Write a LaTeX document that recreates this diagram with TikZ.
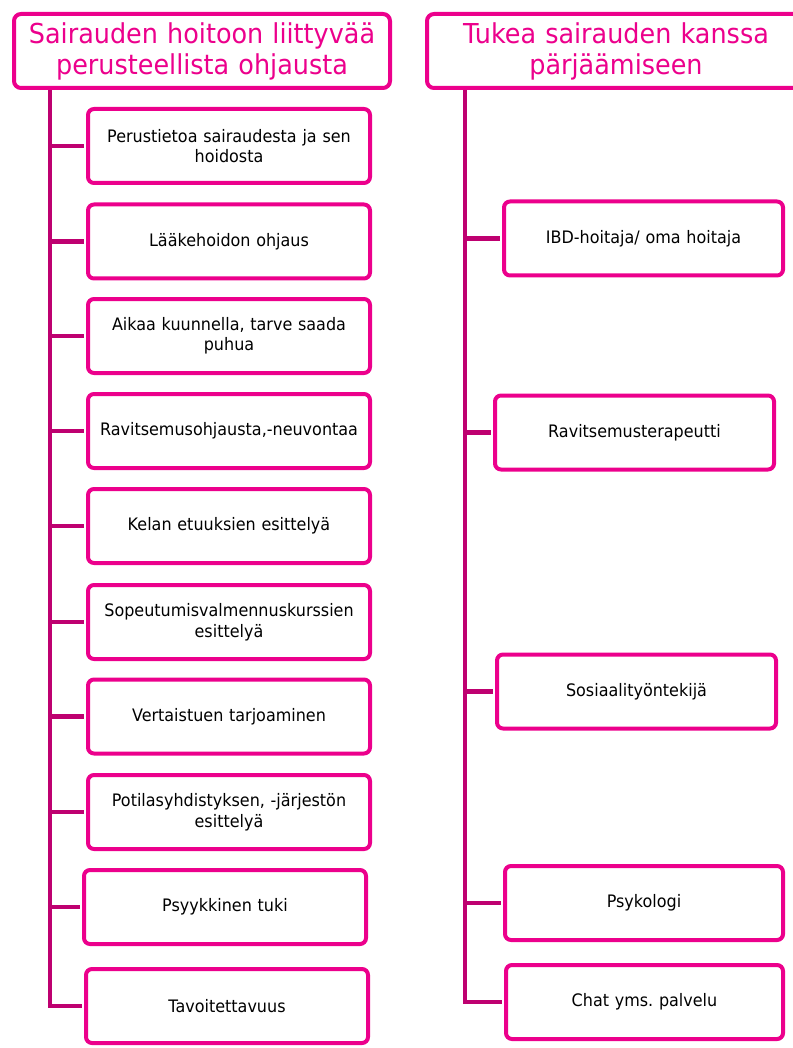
\documentclass[tikz,border=0pt]{standalone}
\usepackage{fontspec}
\setmainfont{DejaVu Sans}[FakeStretch=0.93]
\usepackage{xcolor}
\usepackage{tikz}
\usetikzlibrary{positioning,calc}

\definecolor{boxpink}{RGB}{236,0,140}
\definecolor{linkpink}{RGB}{190,0,112}

\frenchspacing
\begin{document}
\begin{tikzpicture}[
    x=1pt, y=-1pt,
    head/.style={rectangle, draw=boxpink, line width=4pt, fill=white, rounded corners=7pt, minimum width=376pt, minimum height=74pt, text width=372pt, align=center, inner sep=0pt, text=boxpink, font=\fontsize{27.4}{31}\selectfont},
    item/.style={rectangle, draw=boxpink, line width=4pt, fill=white, rounded corners=6pt, minimum width=282pt, minimum height=74pt, text width=276pt, align=center, inner sep=0pt, font=\fontsize{17.2}{20.5}\selectfont},
    branch/.style={draw=linkpink, line width=4.5pt, shorten >=2pt}
]
    \useasboundingbox (0,0) rectangle (792,1048);

    % Column 1: Hoidon ohjaus
    \node (lhead) at (202, 51) [head] {Sairauden hoitoon liittyvää\\perusteellista ohjausta};
    \node (l1) at (229, 146) [item] {Perustietoa sairaudesta ja sen\\hoidosta};
    \node (l2) at (229, 241.5) [item] {Lääkehoidon ohjaus};
    \node (l3) at (229, 336) [item] {Aikaa kuunnella, tarve saada\\puhua};
    \node (l4) at (229, 431) [item] {Ravitsemusohjausta,-neuvontaa};
    \node (l5) at (229, 526) [item] {Kelan etuuksien esittelyä};
    \node (l6) at (229, 622) [item] {Sopeutumisvalmennuskurssien\\esittelyä};
    \node (l7) at (229, 716.5) [item] {Vertaistuen tarjoaminen};
    \node (l8) at (229, 812) [item] {Potilasyhdistyksen, -järjestön\\esittelyä};
    \node (l9) at (225, 907) [item] {Psyykkinen tuki};
    \node (l10) at (227, 1006) [item] {Tavoitettavuus};

    % Column 2: Tuki
    \node (rhead) at (616, 51) [head, minimum width=378pt] {Tukea sairauden kanssa\\pärjäämiseen};
    \node (r1) at (643.5, 238.5) [item, minimum width=279pt] {IBD-hoitaja/ oma hoitaja};
    \node (r2) at (634.5, 432.5) [item, minimum width=279pt] {Ravitsemusterapeutti};
    \node (r3) at (636.5, 691.5) [item, minimum width=279pt] {Sosiaalityöntekijä};
    \node (r4) at (644, 903) [item, minimum width=278pt] {Psykologi};
    \node (r5) at (644.5, 1002) [item, minimum width=277pt] {Chat yms. palvelu};

    % Trunk lines
    \coordinate (ltop) at (50, 90);
    \coordinate (rtop) at (465, 90);
    \draw [branch] (ltop) |- (l10.west);
    \draw [branch] (rtop) |- (r5.west);

    % Branches
    \draw [branch] (ltop |- l1.west) -- (l1.west);
    \draw [branch] (ltop |- l2.west) -- (l2.west);
    \draw [branch] (ltop |- l3.west) -- (l3.west);
    \draw [branch] (ltop |- l4.west) -- (l4.west);
    \draw [branch] (ltop |- l5.west) -- (l5.west);
    \draw [branch] (ltop |- l6.west) -- (l6.west);
    \draw [branch] (ltop |- l7.west) -- (l7.west);
    \draw [branch] (ltop |- l8.west) -- (l8.west);
    \draw [branch] (ltop |- l9.west) -- (l9.west);
    \draw [branch] (rtop |- r1.west) -- (r1.west);
    \draw [branch] (rtop |- r2.west) -- (r2.west);
    \draw [branch] (rtop |- r3.west) -- (r3.west);
    \draw [branch] (rtop |- r4.west) -- (r4.west);
\end{tikzpicture}
\end{document}
